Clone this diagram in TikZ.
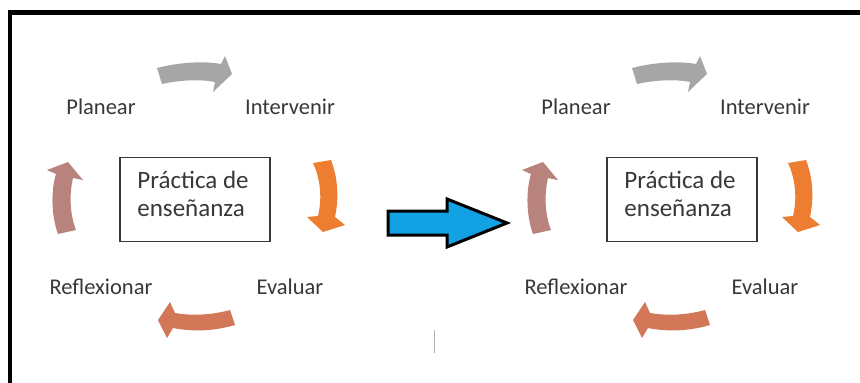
\documentclass[tikz,border=0pt]{standalone}
\usepackage{fontspec}
\setmainfont{Carlito}
\definecolor{txt}{HTML}{383838}
\definecolor{cgray}{HTML}{A6A6A6}
\definecolor{corange}{HTML}{ED7D31}
\definecolor{csalmon}{HTML}{D27858}
\definecolor{crosy}{HTML}{B7837C}
\definecolor{cblue}{HTML}{12A2E4}
\begin{document}
\begin{tikzpicture}[x=1pt,y=-1pt,
  lbl/.style={text=txt,font=\fontsize{22.5}{26}\selectfont,inner sep=0pt},
  core/.style={draw=txt,line width=1.2pt,minimum width=150pt,minimum height=84pt,inner sep=0pt},
  coretxt/.style={text=txt,font=\fontsize{25}{28}\selectfont,align=left,inner sep=0pt}]
\useasboundingbox (0,0) rectangle (860,383);
\fill[white] (0,0) rectangle (860,383);
% frame
\draw[line width=4.5pt,black] (10,383) -- (10,12.5) -- (862,12.5);
\foreach \ox/\bx in {0/0,475/487}{
\begin{scope}[xshift=\ox pt]
  \node[lbl] (plan\ox) at (101,107) {Planear};
  \node[lbl] (inte\ox) at (290,107) {Intervenir};
  \node[lbl] (eval\ox) at (290,287) {Evaluar};
  \node[lbl] (refl\ox) at (101,287) {Reflexionar};
  % gray arrow
  \fill[cgray] (157,68) .. controls (180,62) and (205,61) .. (221,64) -- (225,56) -- (232,74) -- (213,92) -- (215,82) .. controls (200,79) and (180,80) .. (162,84) -- cycle;
  % orange arrow
  \fill[corange] (313,163) .. controls (321,180) and (322,200) .. (318,216) -- (307,217) -- (323,232) -- (345,225) -- (335,217) .. controls (339,198) and (338,178) .. (331,160) -- cycle;
  % salmon arrow
  \fill[csalmon] (230,310) .. controls (212,315) and (192,316) .. (175,313) -- (170,302) -- (158,320) -- (167,338) -- (173,328) .. controls (193,332) and (215,331) .. (235,325) -- cycle;
  % rosy arrow
  \fill[crosy] (58,234) .. controls (51,215) and (51,190) .. (56,174) -- (47,170) -- (68,162) -- (83,180) -- (73,178) .. controls (69,195) and (70,215) .. (76,230) -- cycle;
\end{scope}
\node[core] (box\ox) at (195+\bx,199.5) {};
\node[coretxt] (boxtxt\ox) at (193+\bx,194) {Práctica de\\enseñanza};
}
% blue arrow
\filldraw[fill=cblue,draw=black,line width=3pt,line join=miter]
  (388,211) -- (447,211) -- (447,199) -- (507,223) -- (447,247) -- (447,235) -- (388,235) -- cycle;
% small mark
\draw[gray!60,line width=1pt] (434,330) -- (434,353);
\end{tikzpicture}
\end{document}
